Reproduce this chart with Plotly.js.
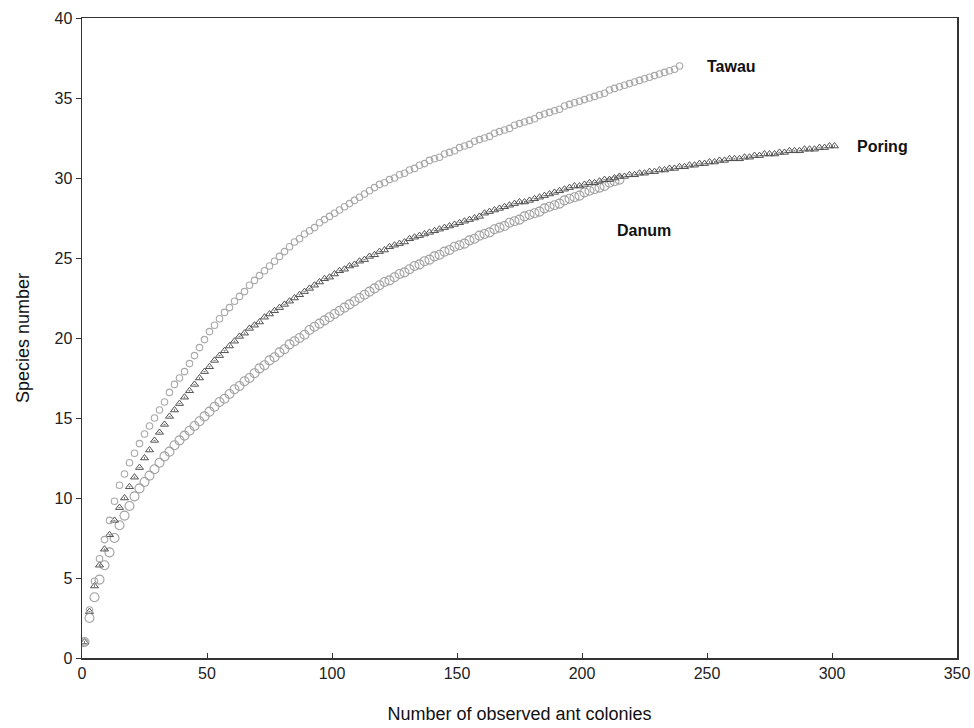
<!DOCTYPE html>
<html>
<head>
<meta charset="utf-8">
<script src="https://cdn.plot.ly/plotly-3.0.1.min.js"></script>
<style>html,body{margin:0;padding:0;background:#fff;}#chart{width:974px;height:728px;}</style>
</head>
<body>
<div id="chart"></div>
<script>
// Sample sizes: every second colony count, starting at 1
const sampleStep = 2;

const tawauValues = [1.0,3.0,4.8,6.2,7.4,8.6,9.8,10.8,11.5,12.2,12.8,13.4,14.0,14.5,15.0,15.5,16.0,16.6,17.1,17.5,
17.9,18.4,18.9,19.4,19.9,20.4,20.8,21.2,21.6,21.9,22.3,22.6,22.9,23.3,23.6,23.9,24.2,24.5,24.8,25.1,
25.4,25.7,26.0,26.2,26.5,26.7,26.9,27.2,27.4,27.6,27.8,28.0,28.2,28.4,28.6,28.8,29.0,29.2,29.4,29.6,
29.7,29.9,30.0,30.2,30.3,30.5,30.6,30.8,30.9,31.1,31.2,31.3,31.5,31.6,31.7,31.9,32.0,32.1,32.3,32.4,
32.5,32.6,32.8,32.9,33.0,33.1,33.3,33.4,33.5,33.6,33.7,33.9,34.0,34.1,34.2,34.3,34.5,34.6,34.7,34.8,
34.9,35.0,35.1,35.2,35.3,35.5,35.6,35.7,35.8,35.9,36.0,36.1,36.2,36.3,36.4,36.5,36.6,36.7,36.8,37.0];

const poringValues = [1.0,2.9,4.5,5.8,6.8,7.7,8.6,9.4,10.0,10.7,11.3,11.9,12.5,13.0,13.6,14.1,14.6,15.1,15.5,15.9,
16.3,16.7,17.1,17.5,17.9,18.2,18.6,18.9,19.2,19.5,19.8,20.1,20.3,20.6,20.8,21.0,21.3,21.5,21.7,21.9,
22.1,22.3,22.5,22.7,22.9,23.1,23.3,23.5,23.7,23.8,24.0,24.2,24.3,24.5,24.6,24.8,24.9,25.1,25.2,25.4,
25.5,25.7,25.8,25.9,26.0,26.2,26.3,26.4,26.5,26.6,26.7,26.8,26.9,27.0,27.1,27.2,27.3,27.4,27.5,27.6,
27.8,27.9,28.0,28.1,28.2,28.3,28.4,28.5,28.5,28.6,28.7,28.8,28.9,29.0,29.1,29.2,29.3,29.4,29.5,29.5,
29.6,29.7,29.7,29.8,29.9,29.9,30.0,30.1,30.1,30.2,30.2,30.3,30.3,30.4,30.4,30.5,30.5,30.6,30.6,30.7,
30.7,30.8,30.8,30.9,30.9,31.0,31.0,31.1,31.1,31.2,31.2,31.2,31.3,31.3,31.4,31.4,31.5,31.5,31.5,31.6,
31.6,31.7,31.7,31.7,31.8,31.8,31.8,31.9,31.9,32.0,32.0];

const danumValues = [1.0,2.5,3.8,4.9,5.8,6.6,7.5,8.3,8.9,9.5,10.1,10.6,11.0,11.4,11.8,12.2,12.6,12.9,13.3,13.6,
13.9,14.2,14.5,14.8,15.1,15.4,15.7,16.0,16.2,16.5,16.8,17.0,17.3,17.5,17.8,18.1,18.3,18.6,18.8,19.1,
19.3,19.6,19.8,20.0,20.2,20.5,20.7,20.9,21.1,21.3,21.5,21.7,21.9,22.1,22.3,22.5,22.7,22.9,23.1,23.3,
23.5,23.6,23.8,24.0,24.1,24.3,24.5,24.6,24.8,24.9,25.1,25.2,25.4,25.5,25.7,25.8,25.9,26.1,26.2,26.4,
26.5,26.6,26.8,26.9,27.0,27.2,27.3,27.4,27.6,27.7,27.8,27.9,28.1,28.2,28.3,28.4,28.6,28.7,28.8,28.9,
29.1,29.2,29.3,29.4,29.5,29.7,29.8,29.9];

const siteNames = ["Tawau", "Poring", "Danum"];
const xTickVals = [0,50,100,150,200,250,300,350];
const yTickVals = [0,5,10,15,20,25,30,35,40];

function counts(arr){ return arr.map((_, i) => 1 + sampleStep * i); }

const tawauX = counts(tawauValues), poringX = counts(poringValues), danumX = counts(danumValues);

const traces = [
  {x: danumX, y: danumValues, mode: 'markers', type: 'scatter', name: siteNames[2],
   marker: {symbol: 'circle-open', size: 9, color: '#a0a0a0', line: {width: 1.1}}},
  {x: poringX, y: poringValues, mode: 'markers', type: 'scatter', name: siteNames[1],
   marker: {symbol: 'triangle-up-open-dot', size: 7, color: '#505050', line: {width: 1}}},
  {x: tawauX, y: tawauValues, mode: 'markers', type: 'scatter', name: siteNames[0],
   marker: {symbol: 'circle-open', size: 6.5, color: '#a8a8a8', line: {width: 1.1}}}
];

const lastOf = a => a[a.length - 1];
const labelFont = {family: 'Liberation Sans, Arial, sans-serif', size: 16, color: '#111', weight: 'bold'};

const layout = {
  width: 974, height: 728,
  margin: {l: 82, r: 17, t: 18, b: 70},
  paper_bgcolor: '#fff', plot_bgcolor: '#fff',
  showlegend: false,
  font: {family: 'Liberation Sans, Arial, sans-serif', size: 16, color: '#222'},
  xaxis: {
    range: [0, 350], tickvals: xTickVals, ticks: 'inside', ticklen: 5, tickcolor: '#333',
    showgrid: false, zeroline: false, showline: true, linecolor: '#333', linewidth: 1.5, mirror: true,
    tickfont: {size: 16, color: '#222'},
    title: {text: 'Number of observed ant colonies', font: {size: 18, color: '#111'}, standoff: 26}
  },
  yaxis: {
    range: [0, 40], tickvals: yTickVals, ticks: 'outside', ticklen: 5, tickcolor: '#333',
    showgrid: false, zeroline: false, showline: true, linecolor: '#333', linewidth: 1.5, mirror: true,
    tickfont: {size: 16, color: '#222'},
    title: {text: 'Species number', font: {size: 18, color: '#111'}, standoff: 20}
  },
  annotations: [
    {x: lastOf(tawauX) + 10, y: lastOf(tawauValues), text: '<b>' + siteNames[0] + '</b>', showarrow: false, xanchor: 'left', font: labelFont},
    {x: lastOf(poringX) + 8, y: lastOf(poringValues), text: '<b>' + siteNames[1] + '</b>', showarrow: false, xanchor: 'left', font: labelFont},
    {x: lastOf(danumX) - 2, y: 26.7, text: '<b>' + siteNames[2] + '</b>', showarrow: false, xanchor: 'left', font: labelFont}
  ]
};

Plotly.newPlot('chart', traces, layout, {displayModeBar: false, staticPlot: true});
</script>
</body>
</html>
